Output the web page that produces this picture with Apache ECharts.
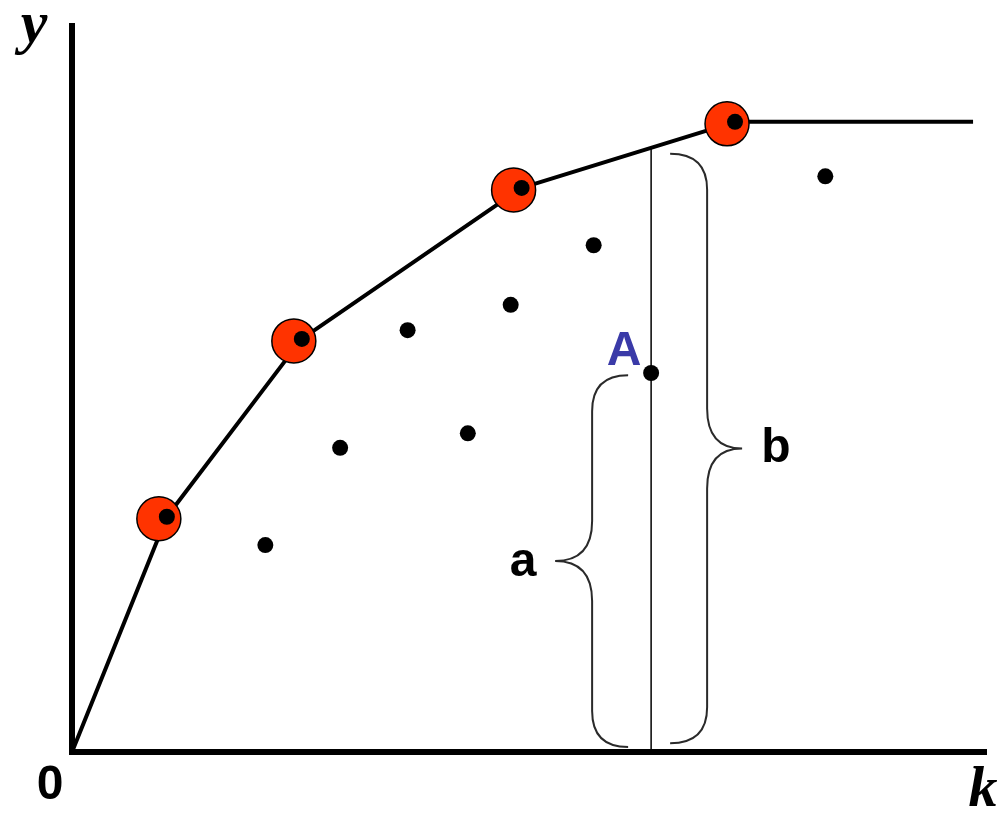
<!DOCTYPE html>
<html><head><meta charset="utf-8">
<script src="https://cdn.jsdelivr.net/npm/echarts@6/dist/echarts.min.js"></script>
<style>html,body{margin:0;padding:0;background:#fff}#c{width:1005px;height:819px}</style>
</head><body><div id="c"></div>
<script>
// Frontier (envelope) line through the efficient points
const frontierLine = [[0, 0], [10.4, 32.4], [25.2, 56.9], [49.3, 77.7], [72.7, 86.8], [98.8, 86.8]];
// Efficient points (highlighted by red circles)
const frontierPoints = [[10.4, 32.4], [25.2, 56.9], [49.3, 77.7], [72.7, 86.8]];
// Other observations
const otherPoints = [[21.2, 28.5], [29.4, 41.9], [36.8, 58.1], [43.4, 43.9], [48.1, 61.6], [57.2, 69.8], [63.5, 52.2], [82.6, 79.3]];
// Vertical line from axis to frontier at point A
const verticalLine = [[63.5, 0], [63.5, 83.3]];
// Braces: [x, yBottom, yTop, side(-1 left, 1 right)]
const braces = [[63.5, 0.7, 51.9, -1], [63.5, 1.2, 82.4, 1]];

const chart = echarts.init(document.getElementById('c'), null, {renderer: 'canvas'});
const axisCommon = {
  type: 'value', min: 0, max: 100,
  axisLine: {show: true, onZero: false, lineStyle: {color: '#000', width: 6, cap: 'square'}},
  axisTick: {show: false}, axisLabel: {show: false}, splitLine: {show: false}
};
const sans = '"Liberation Sans", Arial, sans-serif';
const serif = '"Liberation Serif", "Times New Roman", serif';
chart.setOption({
  animation: false,
  backgroundColor: '#fff',
  grid: {left: 72, right: 21, top: 26, bottom: 67},
  xAxis: axisCommon,
  yAxis: axisCommon,
  series: [
    {
      type: 'line', data: frontierLine, showSymbol: false, z: 2,
      lineStyle: {color: '#000', width: 4}
    },
    {
      type: 'line', data: verticalLine, showSymbol: false, z: 2,
      lineStyle: {color: '#000', width: 1.5}
    },
    {
      type: 'custom', data: braces, z: 2, clip: false,
      encode: {x: 0, y: [1, 2]},
      renderItem: function (params, api) {
        const x = api.value(0), y0 = api.value(1), y1 = api.value(2), s = api.value(3);
        const pb = api.coord([x, y0]), pt = api.coord([x, y1]);
        const X = pb[0];
        const off = s < 0 ? [23, 59, 96] : [19, 56, 91];
        const e = X + s * off[0], v = X + s * off[1], t = X + s * off[2];
        const top = pt[1], bot = pb[1], mid = (top + bot) / 2;
        const r = 36, rt = 40;
        const d = 'M' + e + ' ' + top + ' Q' + v + ' ' + top + ' ' + v + ' ' + (top + r) +
          ' L' + v + ' ' + (mid - rt) + ' Q' + v + ' ' + mid + ' ' + t + ' ' + mid +
          ' Q' + v + ' ' + mid + ' ' + v + ' ' + (mid + rt) +
          ' L' + v + ' ' + (bot - r) + ' Q' + v + ' ' + bot + ' ' + e + ' ' + bot;
        return {type: 'path', shape: {pathData: d}, style: {fill: null, stroke: '#2a2a2a', lineWidth: 2}};
      }
    },
    {
      type: 'scatter', data: frontierPoints, z: 3,
      symbol: 'circle', symbolSize: 44, symbolOffset: [-8, 2],
      itemStyle: {color: '#ff3300', borderColor: '#000', borderWidth: 1.5, opacity: 1}
    },
    {
      type: 'scatter', data: frontierPoints.concat(otherPoints), z: 4,
      symbol: 'circle', symbolSize: 16,
      itemStyle: {color: '#000', opacity: 1}
    }
  ],
  graphic: [
    {type: 'text', x: 34, y: 26, style: {text: 'y', font: 'italic bold 60px ' + serif, fill: '#000', align: 'center', verticalAlign: 'middle'}},
    {type: 'text', x: 983, y: 791, style: {text: 'k', font: 'italic bold 58px ' + serif, fill: '#000', align: 'center', verticalAlign: 'middle'}},
    {type: 'text', x: 50, y: 786, style: {text: '0', font: 'bold 48px ' + sans, fill: '#000', align: 'center', verticalAlign: 'middle'}},
    {type: 'text', x: 624, y: 352, style: {text: 'A', font: 'bold 48px ' + sans, fill: '#3a3aa8', align: 'center', verticalAlign: 'middle'}},
    {type: 'text', x: 523, y: 563, style: {text: 'a', font: 'bold 48px ' + sans, fill: '#000', align: 'center', verticalAlign: 'middle'}},
    {type: 'text', x: 776, y: 449, style: {text: 'b', font: 'bold 48px ' + sans, fill: '#000', align: 'center', verticalAlign: 'middle'}}
  ]
});
</script></body></html>
